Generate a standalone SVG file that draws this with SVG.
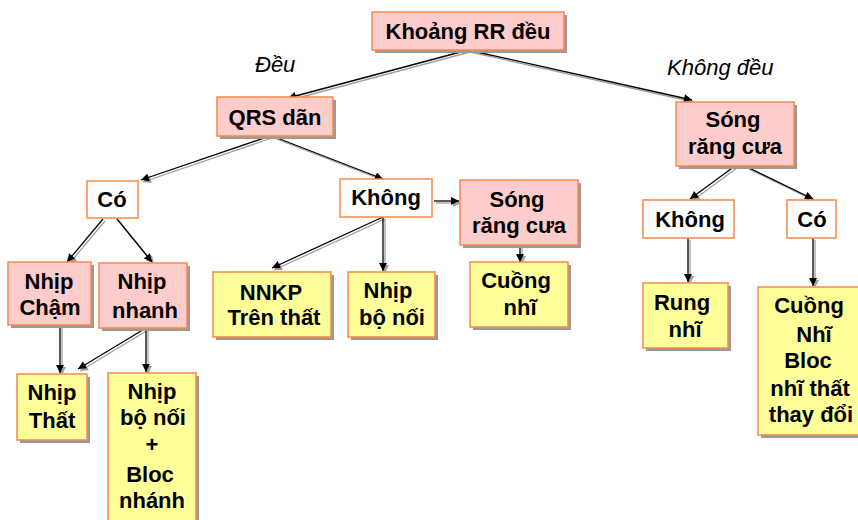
<svg xmlns="http://www.w3.org/2000/svg" width="858" height="520" viewBox="0 0 858 520">
  <style>
    .shadow { fill: #9a9a9a; }
    .pink { fill: #FFCCCC; stroke: #F7894A; stroke-width: 1.5; }
    .yellow { fill: #FFFF99; stroke: #F7894A; stroke-width: 1.5; }
    .white { fill: #FFFFFF; stroke: #F7894A; stroke-width: 1.5; }
    .t { font-family: "Liberation Sans", Arial, sans-serif; font-weight: bold; font-size: 22px; fill: #000; text-anchor: middle; }
    .lbl { font-family: "Liberation Sans", Arial, sans-serif; font-style: italic; font-size: 22px; fill: #000; }
    .edge { fill: none; stroke: #000; stroke-width: 1.3; marker-end: url(#ah); }
    .edge-sh { fill: none; stroke: #a0a0a0; stroke-width: 1.3; marker-end: url(#ah-sh); }
  </style>
  <defs>
    <marker id="ah" viewBox="0 0 10 10" refX="10" refY="5" markerWidth="9" markerHeight="8" markerUnits="userSpaceOnUse" orient="auto">
      <path d="M0,0 L10,5 L0,10 z" fill="#000"/>
    </marker>
    <marker id="ah-sh" viewBox="0 0 10 10" refX="10" refY="5" markerWidth="9" markerHeight="8" markerUnits="userSpaceOnUse" orient="auto">
      <path d="M0,0 L10,5 L0,10 z" fill="#a0a0a0"/>
    </marker>
    <g id="edges">
      <path d="M468,50 L288,98"/>
      <path d="M468,50 L692,100"/>
      <path d="M270,136 L141,180"/>
      <path d="M272,136 L383,179"/>
      <path d="M103,219 L67,262"/>
      <path d="M117,219 L152,262"/>
      <path d="M60,325 L60,373"/>
      <path d="M146,328 L78,369"/>
      <path d="M146,328 L146,372"/>
      <path d="M383,217 L272,268"/>
      <path d="M383,217 L383,271"/>
      <path d="M434,201 L459,201"/>
      <path d="M520,245 L520,262"/>
      <path d="M735,166 L690,199"/>
      <path d="M745,166 L813,199"/>
      <path d="M688,238 L688,282"/>
      <path d="M813,238 L813,286"/>
    </g>
  </defs>

  <!-- connectors: grey offset copy, then black line -->
  <g id="connectors">
    <use href="#edges" class="edge-sh" transform="translate(2,2)"/>
    <use href="#edges" class="edge"/>
  </g>

  <!-- branch labels -->
  <text class="lbl" x="255" y="72">Đều</text>
  <text class="lbl" x="667" y="75">Không đều</text>

  <g id="n-rr">
    <rect class="shadow" x="375" y="15" width="192" height="38"/>
    <rect class="pink" x="372" y="12" width="192" height="38"/>
    <text class="t" x="468" y="39">Khoảng RR đều</text>
  </g>

  <g id="n-qrs">
    <rect class="shadow" x="220" y="100" width="116" height="39"/>
    <rect class="pink" x="217" y="97" width="116" height="39"/>
    <text class="t" x="275" y="125">QRS dãn</text>
  </g>

  <g id="n-co">
    <rect class="white" x="87" y="181" width="51" height="37"/>
    <text class="t" x="112" y="207">Có</text>
  </g>

  <g id="n-khong">
    <rect class="white" x="340" y="179" width="92" height="38"/>
    <text class="t" x="386" y="205">Không</text>
  </g>

  <g id="n-song-mid">
    <rect class="shadow" x="463" y="183" width="118" height="65"/>
    <rect class="pink" x="460" y="180" width="118" height="65"/>
    <text class="t" x="517" y="207">Sóng</text>
    <text class="t" x="519" y="233">răng cưa</text>
  </g>

  <g id="n-cham">
    <rect class="shadow" x="11" y="265" width="83" height="63"/>
    <rect class="pink" x="8" y="262" width="83" height="63"/>
    <text class="t" x="49" y="289">Nhịp</text>
    <text class="t" x="50" y="315">Chậm</text>
  </g>

  <g id="n-nhanh">
    <rect class="shadow" x="102" y="266" width="88" height="65"/>
    <rect class="pink" x="99" y="263" width="88" height="65"/>
    <text class="t" x="142" y="289">Nhịp</text>
    <text class="t" x="145" y="318">nhanh</text>
  </g>

  <g id="n-that">
    <rect class="shadow" x="20" y="377" width="70" height="66"/>
    <rect class="yellow" x="17" y="374" width="70" height="66"/>
    <text class="t" x="52" y="400">Nhịp</text>
    <text class="t" x="52" y="428">Thất</text>
  </g>

  <g id="n-bonoi-bloc">
    <rect class="shadow" x="111" y="376" width="88" height="150"/>
    <rect class="yellow" x="108" y="373" width="88" height="150"/>
    <text class="t" x="152" y="399">Nhịp</text>
    <text class="t" x="153" y="425">bộ nối</text>
    <text class="t" x="152" y="452">+</text>
    <text class="t" x="150" y="482">Bloc</text>
    <text class="t" x="152" y="508">nhánh</text>
  </g>

  <g id="n-nnkp">
    <rect class="shadow" x="216" y="275" width="118" height="65"/>
    <rect class="yellow" x="213" y="272" width="118" height="65"/>
    <text class="t" x="271" y="300">NNKP</text>
    <text class="t" x="274" y="325">Trên thất</text>
  </g>

  <g id="n-bonoi">
    <rect class="shadow" x="351" y="275" width="87" height="65"/>
    <rect class="yellow" x="348" y="272" width="87" height="65"/>
    <text class="t" x="388" y="298">Nhịp</text>
    <text class="t" x="392" y="325">bộ nối</text>
  </g>

  <g id="n-cuong-mid">
    <rect class="shadow" x="473" y="265" width="98" height="65"/>
    <rect class="yellow" x="470" y="262" width="98" height="65"/>
    <text class="t" x="516" y="288">Cuồng</text>
    <text class="t" x="520" y="315">nhĩ</text>
  </g>

  <g id="n-song-right">
    <rect class="shadow" x="679" y="105" width="118" height="64"/>
    <rect class="pink" x="676" y="102" width="118" height="64"/>
    <text class="t" x="733" y="127">Sóng</text>
    <text class="t" x="735" y="154">răng cưa</text>
  </g>

  <g id="n-khong-right">
    <rect class="white" x="643" y="200" width="91" height="38"/>
    <text class="t" x="690" y="227">Không</text>
  </g>

  <g id="n-co-right">
    <rect class="white" x="787" y="200" width="49" height="38"/>
    <text class="t" x="812" y="227">Có</text>
  </g>

  <g id="n-rung">
    <rect class="shadow" x="646" y="286" width="85" height="65"/>
    <rect class="yellow" x="643" y="283" width="85" height="65"/>
    <text class="t" x="682" y="310">Rung</text>
    <text class="t" x="685" y="337">nhĩ</text>
  </g>

  <g id="n-cuong-right">
    <rect class="shadow" x="761" y="290" width="105" height="148"/>
    <rect class="yellow" x="758" y="287" width="105" height="148"/>
    <text class="t" x="809" y="313">Cuồng</text>
    <text class="t" x="814" y="342">Nhĩ</text>
    <text class="t" x="808" y="368">Bloc</text>
    <text class="t" x="810" y="396">nhĩ thất</text>
    <text class="t" x="811" y="422">thay đổi</text>
  </g>
</svg>
